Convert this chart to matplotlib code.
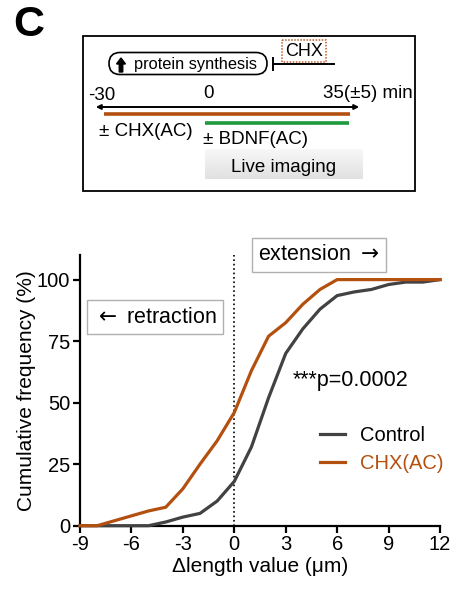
import numpy as np
import matplotlib
matplotlib.use("Agg")
import matplotlib.pyplot as plt
import matplotlib.patches as patches

plt.rcParams['font.family'] = ['Liberation Sans', 'DejaVu Sans']
plt.rcParams['axes.unicode_minus'] = False

# cumulative frequency data (%)
length_values = [-9, -8, -7, -6, -5, -4, -3, -2, -1, 0, 1, 2, 3, 4, 5, 6, 7, 8, 9, 10, 11, 12]
control_freq = [0, 0, 0, 0, 0, 1.5, 3.5, 5, 10, 18, 32, 52, 70, 80, 88, 93.5, 95, 96, 98, 99, 99, 100]
chx_freq = [0, 0, 2, 4, 6, 7.5, 15, 25, 34.5, 46, 63, 77, 82.5, 90, 96, 100, 100, 100, 100, 100, 100, 100]

x_ticks = [-9, -6, -3, 0, 3, 6, 9, 12]
y_ticks = [0, 25, 50, 75, 100]

CTRL_COLOR = '#424242'
CHX_COLOR = '#B4500F'
GREEN = '#1E9A3C'

fig = plt.figure(figsize=(4.58, 5.92), dpi=100)

# ---- schematic on top, drawn in pixel coordinates ----
top = fig.add_axes([0, 0, 1, 1])
top.axis('off')

top.text(13, 25, 'C', fontsize=31, fontweight='bold', va='center', ha='left')
top.add_patch(patches.Rectangle((83, 36), 332, 155, fill=False, edgecolor='black', lw=1.3))

# protein synthesis pill
top.add_patch(patches.FancyBboxPatch((109, 52.5), 158, 22,
              boxstyle='round,pad=0,rounding_size=11', fill=False, edgecolor='black', lw=1.2))
top.add_patch(patches.FancyArrow(121, 72, 0, -14, width=3.5, head_width=9, head_length=6,
              length_includes_head=True, color='black'))
top.text(134, 65, 'protein synthesis', fontsize=11.8, va='center', ha='left')
top.plot([273, 273], [58, 70], color='black', lw=1.4)
top.plot([273, 334], [64, 64], color='black', lw=1.4)
top.add_patch(patches.Rectangle((282, 40), 44, 22, fill=False, edgecolor='#C0602A', lw=1.1, ls=(0, (1, 1))))
top.text(304, 52, 'CHX', fontsize=13, va='center', ha='center')

# timeline
top.text(88, 95, '-30', fontsize=13.5, va='center', ha='left')
top.text(209, 94, '0', fontsize=13.5, va='center', ha='center')
top.text(323, 93, '35(\u00b15) min', fontsize=13.5, va='center', ha='left')
top.annotate('', xy=(93, 107), xytext=(362, 107),
             arrowprops=dict(arrowstyle='<|-|>', color='black', lw=1.4, mutation_scale=7))
top.plot([104, 350], [113.5, 113.5], color=CHX_COLOR, lw=2.6, solid_capstyle='butt')
top.text(99, 131, '\u00b1 CHX(AC)', fontsize=13.5, va='center', ha='left')
top.plot([205, 349], [123, 123], color=GREEN, lw=2.6, solid_capstyle='butt')
top.text(203, 139, '\u00b1 BDNF(AC)', fontsize=13.5, va='center', ha='left')

grad = np.linspace(0.97, 0.88, 50).reshape(-1, 1)
top.imshow(grad, cmap='gray', vmin=0, vmax=1, extent=(205, 363, 179, 149), aspect='auto', zorder=1)
top.set_xlim(0, 458)
top.set_ylim(592, 0)
top.text(284, 168, 'Live imaging', fontsize=13.5, va='center', ha='center', zorder=2)

# ---- cumulative frequency plot ----
ax = fig.add_axes([80 / 458, 1 - 525.7 / 592, 360 / 458, 270.7 / 592])
ax.plot(length_values, control_freq, color=CTRL_COLOR, lw=2.3, label='Control', clip_on=False, zorder=3)
ax.plot(length_values, chx_freq, color=CHX_COLOR, lw=2.3, label='CHX(AC)', clip_on=False, zorder=3)
ax.axvline(0, color='black', ls=':', lw=1.2, zorder=2)

ax.set_xlim(-9, 12)
ax.set_ylim(0, 110)
ax.set_xticks(x_ticks)
ax.set_yticks(y_ticks)
ax.spines['top'].set_visible(False)
ax.spines['right'].set_visible(False)
ax.spines['left'].set_linewidth(1.6)
ax.spines['bottom'].set_linewidth(1.6)
ax.tick_params(direction='out', length=5, width=1.6, labelsize=14.5, pad=2)
ax.set_xlabel('\u0394length value (\u03bcm)', fontsize=15, labelpad=2)
ax.set_ylabel('Cumulative frequency (%)', fontsize=15, labelpad=1)

ax.text(4.94, 110.1, 'extension $\\rightarrow$', fontsize=15.5, ha='center', va='center', clip_on=False,
        bbox=dict(boxstyle='square,pad=0.3', facecolor='white', edgecolor='#b0b0b0', lw=1))
ax.text(-4.62, 84.8, '$\\leftarrow$ retraction', fontsize=15.5, ha='center', va='center',
        bbox=dict(boxstyle='square,pad=0.3', facecolor='white', edgecolor='#b0b0b0', lw=1))
ax.text(3.4, 59, '***p=0.0002', fontsize=15.5, ha='left', va='center')

leg = ax.legend(loc='center left', bbox_to_anchor=(0.615, 0.283), frameon=False, fontsize=14.5,
                handlelength=1.25, handletextpad=0.75, labelspacing=0.45)
leg.get_texts()[1].set_color(CHX_COLOR)

fig.savefig('out.png', dpi=100)
